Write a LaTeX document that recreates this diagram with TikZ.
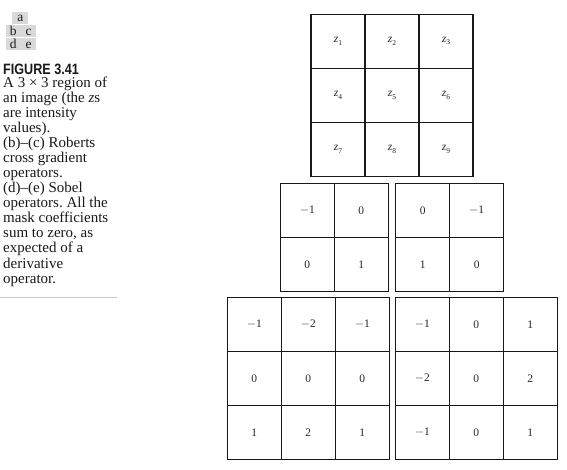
\documentclass[tikz,border=0pt]{standalone}
\usepackage{fontspec}
\setmainfont{Liberation Serif}
\newfontfamily\figsans[FakeStretch=0.84]{Liberation Sans}
\newcommand{\zsub}[1]{\textit{z}\raisebox{-2.2pt}{\fontsize{7.5}{7.5}\selectfont #1}}
\newcommand{\mneg}{\raisebox{0pt}{$-$}}
\frenchspacing
\begin{document}
\begin{tikzpicture}[x=1pt,y=-1pt,
  cell/.style={draw=black!90, line width=1.2pt, minimum size=54pt, inner sep=0pt,
    text=black!85, font=\fontsize{11.5}{12}\selectfont},
  lab/.style={fill=black!15, inner sep=0pt, minimum height=12pt,
    font=\fontsize{13.5}{13}\selectfont, text=black!90},
  capline/.style={anchor=base west, inner sep=0pt,
    font=\fontsize{15}{15}\selectfont, text=black!90},
  rulecol/.style={draw=black!22, line width=1pt}]
\useasboundingbox (0,0) rectangle (567,470);

% panel labels
\node[lab, minimum width=16pt] (la) at (20.3,18) {a};
\node[lab, minimum width=29.7pt] (lbc) at (20.85,31) {b\hspace{9pt}c};
\node[lab, minimum width=29.7pt] (lde) at (20.85,44) {d\hspace{9pt}e};

% caption
\node[anchor=base west, inner sep=0pt, text=black!90,
  font=\figsans\bfseries\fontsize{15}{15}\selectfont] (fig) at (3,74.5) {FIGURE 3.41};
\node[capline] (c1) at (3,88) {A 3 × 3 region of};
\node[capline] (c2) at (3,103) {an image (the \textit{z}s};
\node[capline] (c3) at (3,118) {are intensity};
\node[capline] (c4) at (3,133) {values).};
\node[capline] (c5) at (3,148) {(b)–(c) Roberts};
\node[capline] (c6) at (3,163) {cross gradient};
\node[capline] (c7) at (3,178) {operators.};
\node[capline] (c8) at (3,193) {(d)–(e) Sobel};
\node[capline] (c9) at (3,208) {operators. All the};
\node[capline] (c10) at (3,223) {mask coefficients};
\node[capline] (c11) at (3,238) {sum to zero, as};
\node[capline] (c12) at (3,253) {expected of a};
\node[capline] (c13) at (3,268) {derivative};
\node[capline] (c14) at (3,283) {operator.};
\coordinate (r1) at (0,297);
\coordinate (r2) at (117,297);
\draw[rulecol] (r1) -- (r2);

% (a) 3x3 region
\foreach \r in {0,1,2}{
  \foreach \c in {0,1,2}{
    \pgfmathtruncatemacro{\k}{3*\r+\c+1}
    \node[cell] (a\k) at (338+54*\c, 41.3+54*\r) {\zsub{\k}};
  }
}

% (b) Roberts
\node[cell] (b1) at (307.3,210.3) {\mneg1};
\node[cell] (b2) at (361.3,210.3) {0};
\node[cell] (b3) at (307.3,264.3) {0};
\node[cell] (b4) at (361.3,264.3) {1};
% (c) Roberts
\node[cell] (cc1) at (422.7,210.3) {0};
\node[cell] (cc2) at (476.7,210.3) {\mneg1};
\node[cell] (cc3) at (422.7,264.3) {1};
\node[cell] (cc4) at (476.7,264.3) {0};

% (d) Sobel
\node[cell] (d1) at (254.3,324.3) {\mneg1};
\node[cell] (d2) at (308.3,324.3) {\mneg2};
\node[cell] (d3) at (362.3,324.3) {\mneg1};
\node[cell] (d4) at (254.3,378.3) {0};
\node[cell] (d5) at (308.3,378.3) {0};
\node[cell] (d6) at (362.3,378.3) {0};
\node[cell] (d7) at (254.3,432.3) {1};
\node[cell] (d8) at (308.3,432.3) {2};
\node[cell] (d9) at (362.3,432.3) {1};
% (e) Sobel
\node[cell] (e1) at (422.3,324.3) {\mneg1};
\node[cell] (e2) at (476.3,324.3) {0};
\node[cell] (e3) at (530.3,324.3) {1};
\node[cell] (e4) at (422.3,378.3) {\mneg2};
\node[cell] (e5) at (476.3,378.3) {0};
\node[cell] (e6) at (530.3,378.3) {2};
\node[cell] (e7) at (422.3,432.3) {\mneg1};
\node[cell] (e8) at (476.3,432.3) {0};
\node[cell] (e9) at (530.3,432.3) {1};
\end{tikzpicture}
\end{document}
